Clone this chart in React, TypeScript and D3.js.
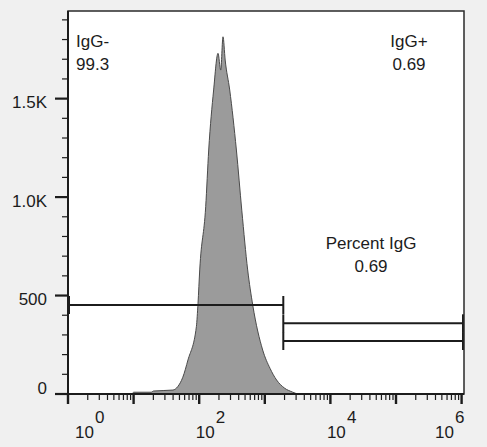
import React from "react";
import * as d3 from "d3";

// ---- data ----
const histExp = [0.98, 1.0, 1.27, 1.3, 1.6, 1.672, 1.75, 1.829, 1.957, 1.982, 2.008, 2.099, 2.145, 2.22, 2.287, 2.328, 2.363, 2.396, 2.465, 2.567, 2.65, 2.739, 2.816, 2.968, 3.08, 3.18, 3.3, 3.42, 3.48, 3.5];
const histCount = [0, 9, 9, 15, 20, 37, 85, 173, 342, 461, 630, 951, 1239, 1544, 1730, 1645, 1814, 1696, 1544, 1239, 930, 630, 452, 223, 130, 71, 30, 10, 2, 0];

const yMajorTicks = [0, 500, 1000, 1500];
const yTickLabels = ["0", "500", "1.0K", "1.5K"];
const yMinorTicks = [100, 200, 300, 400, 600, 700, 800, 900, 1100, 1200, 1300, 1400, 1600, 1700, 1800, 1900];
const xDecades = [0, 1, 2, 3, 4, 5, 6];
const xLabelExps = [0, 2, 4, 6];

// gates: [fromExp, toExp, count level]
const gateNames = ["IgG-", "IgG+", "Percent IgG"];
const gateFromExp = [0.0, 3.282, 3.282];
const gateToExp = [3.282, 6.021, 6.021];
const gateLevel = [452, 359, 269];
const gateLabels = ["IgG-", "IgG+", "Percent IgG"];
const gateValues = ["99.3", "0.69", "0.69"];

export default function App() {
  const W = 487, H = 447;
  const L = 68, R = 464, T = 11, B = 394;
  const x = d3.scaleLog().domain([1, Math.pow(10, 6.0366)]).range([L, R]);
  const y = d3.scaleLinear().domain([0, 1945]).range([B, T]);
  const font = "'Liberation Sans', Arial, sans-serif";
  const ink = "#1c1c1c";

  const pts = histExp.map((e, i) => [Math.pow(10, e), histCount[i]] as [number, number]);
  const area = d3.area<[number, number]>()
    .x(d => x(d[0]))
    .y0(y(0))
    .y1(d => y(d[1]))
    .curve(d3.curveMonotoneX);
  const line = d3.line<[number, number]>().x(d => x(d[0])).y(d => y(d[1])).curve(d3.curveMonotoneX);

  const minorX: number[] = [];
  for (let dcd = 0; dcd < 6; dcd++) for (let m = 2; m <= 9; m++) minorX.push(m * Math.pow(10, dcd));

  const barHalf = 9 / (383 / 1945);
  const labelPos = [
    { x: 76, y: 47, anchor: "start" },
    { x: 409, y: 47, anchor: "middle" },
    { x: 371, y: 249, anchor: "middle" },
  ];

  return (
    <div style={{ position: "fixed", left: 0, top: 0, width: W, height: H, background: "#f0f0f0" }}>
      <svg width={W} height={H} style={{ display: "block" }} fontFamily={font}>
        <rect x={0} y={0} width={W} height={H} fill="#f0f0f0" />
        <rect x={L} y={T} width={R - L} height={B - T} fill="#ffffff" />
        <path d={area(pts) || ""} fill="#9b9b9b" stroke="none" />
        <path d={line(pts) || ""} fill="none" stroke="#4a4a4a" strokeWidth={1} />

        {/* gates */}
        {gateNames.map((g, i) => {
          const x0 = x(Math.pow(10, gateFromExp[i]));
          const x1 = x(Math.pow(10, gateToExp[i]));
          const yy = y(gateLevel[i]);
          const yt = y(gateLevel[i] + barHalf);
          const yb = y(gateLevel[i] - barHalf);
          return (
            <g key={g} stroke={ink} strokeWidth={2} fill="none">
              <line x1={x0} x2={x1} y1={yy} y2={yy} />
              <line x1={i === 0 ? x0 + 1 : x0} x2={i === 0 ? x0 + 1 : x0} y1={yt} y2={yb} />
              <line x1={x1} x2={x1} y1={yt} y2={yb} />
            </g>
          );
        })}

        {/* frame */}
        <rect x={L} y={T} width={R - L} height={B - T} fill="none" stroke="#2a2a2a" strokeWidth={1.5} />
        <line x1={L} x2={L} y1={T} y2={B} stroke={ink} strokeWidth={2} />
        <line x1={L} x2={R} y1={B} y2={B} stroke={ink} strokeWidth={2} />

        {/* y ticks */}
        {yMinorTicks.map(v => (
          <line key={"ym" + v} x1={62} x2={L} y1={y(v)} y2={y(v)} stroke={ink} strokeWidth={1.2} />
        ))}
        {yMajorTicks.map((v, i) => (
          <g key={"yM" + v}>
            <line x1={55} x2={L} y1={y(v)} y2={y(v)} stroke={ink} strokeWidth={2.2} />
            <text x={47} y={Math.min(y(v) + 9.5, B)} textAnchor="end" fontSize={17} fill={ink}>
              {yTickLabels[i]}
            </text>
          </g>
        ))}

        {/* x ticks */}
        {minorX.map(v => (
          <line key={"xm" + v} x1={x(v)} x2={x(v)} y1={B} y2={B + 6} stroke={ink} strokeWidth={1.2} />
        ))}
        {xDecades.map(e => (
          <line key={"xM" + e} x1={x(Math.pow(10, e))} x2={x(Math.pow(10, e))} y1={B} y2={B + 10} stroke={ink} strokeWidth={2.4} />
        ))}
        {xLabelExps.map(e => {
          const tx = x(Math.pow(10, e));
          const w = 29;
          const sx = Math.max(75, Math.min(tx - 3.5, R - w));
          return (
            <g key={"xl" + e} fontSize={17} fill={ink}>
              <text x={sx} y={438}>10</text>
              <text x={sx + 20} y={423}>{String(e)}</text>
            </g>
          );
        })}

        {/* gate labels */}
        {gateLabels.map((t, i) => (
          <g key={"gl" + i} fontSize={17} fill={ink} textAnchor={labelPos[i].anchor as any}>
            <text x={labelPos[i].x} y={labelPos[i].y}>{t}</text>
            <text x={labelPos[i].x} y={labelPos[i].y + 23}>{gateValues[i]}</text>
          </g>
        ))}
      </svg>
    </div>
  );
}
